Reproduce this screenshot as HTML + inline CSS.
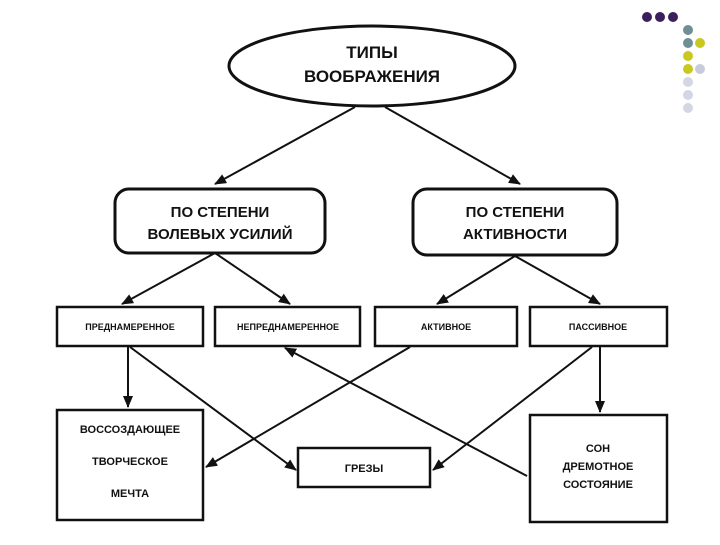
<!DOCTYPE html>
<html><head><meta charset="utf-8"><style>
body{margin:0;background:#fff;width:720px;height:540px;overflow:hidden;font-family:"Liberation Sans","DejaVu Sans",sans-serif}
</style></head><body>
<svg width="720" height="540" xmlns="http://www.w3.org/2000/svg">
<defs><marker id="a" markerWidth="12" markerHeight="10" refX="11" refY="5" orient="auto" markerUnits="userSpaceOnUse"><path d="M0,0 L12,5 L0,10 Z" fill="#111"/></marker></defs>
<g fill="#3a1f5c"><circle cx="647" cy="17" r="5"/><circle cx="660" cy="17" r="5"/><circle cx="673" cy="17" r="5"/></g>
<circle cx="688" cy="30" r="5" fill="#6f8f94"/><circle cx="688" cy="43" r="5" fill="#6f8f94"/><circle cx="700" cy="43" r="5" fill="#c8c820"/>
<circle cx="688" cy="56" r="5" fill="#c8c820"/><circle cx="688" cy="69" r="5" fill="#c8c820"/><circle cx="700" cy="69" r="5" fill="#c8cbdc"/>
<circle cx="688" cy="82" r="5" fill="#d4d6e4"/><circle cx="688" cy="95" r="5" fill="#d4d6e4"/><circle cx="688" cy="108" r="5" fill="#d4d6e4"/>
<g stroke="#111" fill="#fff" stroke-width="3">
<ellipse cx="372" cy="66" rx="143" ry="40"/>
<rect x="115" y="189" width="210" height="64" rx="14"/>
<rect x="413" y="189" width="204" height="66" rx="14"/>
<g stroke-width="2.5">
<rect x="57" y="307" width="146" height="39"/>
<rect x="215" y="307" width="145" height="39"/>
<rect x="375" y="307" width="142" height="39"/>
<rect x="530" y="307" width="137" height="39"/>
<rect x="57" y="410" width="146" height="110"/>
<rect x="298" y="448" width="132" height="39"/>
<rect x="530" y="415" width="137" height="107"/>
</g></g>
<g stroke="#111" stroke-width="2" fill="none" marker-end="url(#a)">
<line x1="355" y1="107" x2="215" y2="184"/>
<line x1="385" y1="107" x2="520" y2="184"/>
<line x1="215" y1="253" x2="122" y2="304"/>
<line x1="215" y1="253" x2="290" y2="304"/>
<line x1="515" y1="256" x2="437" y2="304"/>
<line x1="515" y1="256" x2="600" y2="304"/>
<line x1="128" y1="347" x2="128" y2="407"/>
<line x1="130" y1="347" x2="296" y2="470"/>
<line x1="527" y1="476" x2="285" y2="348"/>
<line x1="410" y1="347" x2="206" y2="467"/>
<line x1="600" y1="347" x2="600" y2="412"/>
<line x1="592" y1="347" x2="433" y2="470"/>
</g>
<g font-weight="bold" fill="#111" text-anchor="middle">
<text x="372" y="58" font-size="17">ТИПЫ</text>
<text x="372" y="82" font-size="17">ВООБРАЖЕНИЯ</text>
<text x="220" y="217" font-size="15">ПО СТЕПЕНИ</text>
<text x="220" y="239" font-size="15">ВОЛЕВЫХ УСИЛИЙ</text>
<text x="515" y="217" font-size="15">ПО СТЕПЕНИ</text>
<text x="515" y="239" font-size="15">АКТИВНОСТИ</text>
<g font-size="9">
<text x="130" y="330">ПРЕДНАМЕРЕННОЕ</text>
<text x="288" y="330">НЕПРЕДНАМЕРЕННОЕ</text>
<text x="446" y="330">АКТИВНОЕ</text>
<text x="598" y="330">ПАССИВНОЕ</text>
</g>
<g font-size="11">
<text x="130" y="433">ВОССОЗДАЮЩЕЕ</text>
<text x="130" y="465">ТВОРЧЕСКОЕ</text>
<text x="130" y="497">МЕЧТА</text>
<text x="364" y="472">ГРЕЗЫ</text>
<text x="598" y="452">СОН</text>
<text x="598" y="470">ДРЕМОТНОЕ</text>
<text x="598" y="488">СОСТОЯНИЕ</text>
</g></g>
</svg>
</body></html>
